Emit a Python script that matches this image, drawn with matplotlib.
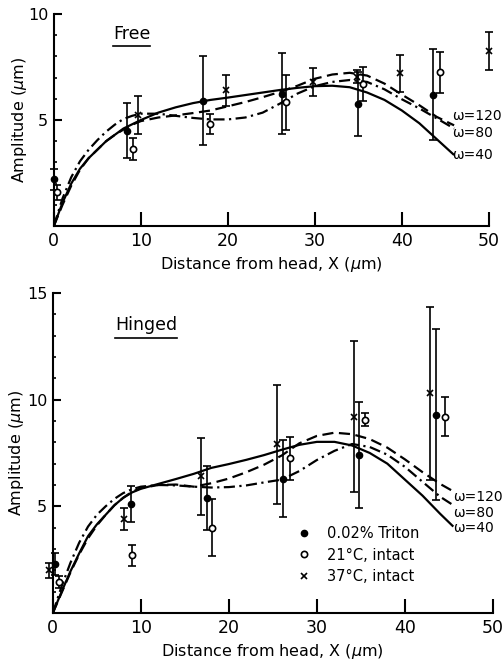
import matplotlib
matplotlib.use("Agg")
import matplotlib.pyplot as plt
from matplotlib.lines import Line2D

plt.rcParams['font.family'] = ['DejaVu Sans']

# ---- model curves, Free ----
free_x = [0, 1, 2, 3, 4, 5, 6, 7, 8, 9, 10, 12, 14, 16, 18, 20, 22, 24, 26, 28,
          30, 32, 34, 36, 38, 40, 42, 44, 46]
free_w40 = [0, 1.1, 2.0, 2.7, 3.2, 3.6, 4.0, 4.3, 4.6, 4.8, 5.0, 5.35, 5.6, 5.8,
            5.95, 6.06, 6.18, 6.3, 6.42, 6.52, 6.6, 6.62, 6.55, 6.3, 5.95, 5.45,
            4.85, 4.1, 3.35]
free_w80 = [0, 1.3, 2.3, 3.05, 3.6, 4.05, 4.45, 4.78, 5.05, 5.2, 5.3, 5.3, 5.2,
            5.1, 5.03, 5.03, 5.12, 5.35, 5.78, 6.25, 6.6, 6.8, 6.89, 6.8, 6.45,
            5.98, 5.55, 5.08, 4.6]
free_w120 = [0, 1.0, 1.9, 2.65, 3.2, 3.6, 4.0, 4.3, 4.55, 4.78, 4.95, 5.12, 5.22,
             5.33, 5.45, 5.65, 5.85, 6.08, 6.33, 6.62, 6.95, 7.15, 7.23, 7.1,
             6.72, 6.2, 5.7, 5.15, 4.75]

# ---- model curves, Hinged ----
hing_x = [0, 1, 2, 3, 4, 5, 6, 7, 8, 9, 10, 12, 14, 16, 18, 20, 22, 24, 26, 28,
          30, 32, 34, 36, 38, 40, 42, 44, 45.5]
hing_w40 = [0, 1.0, 1.95, 2.8, 3.6, 4.15, 4.6, 5.05, 5.4, 5.65, 5.82, 6.05, 6.28,
            6.52, 6.8, 6.98, 7.18, 7.4, 7.65, 7.88, 8.02, 8.02, 7.85, 7.5, 7.0,
            6.25, 5.5, 4.65, 4.05]
hing_w80 = [0, 1.25, 2.35, 3.3, 4.05, 4.6, 5.0, 5.35, 5.62, 5.8, 5.92, 6.0, 5.98,
            5.92, 5.88, 5.9, 5.98, 6.12, 6.25, 6.65, 7.17, 7.6, 7.92, 7.78, 7.42,
            6.85, 6.15, 5.45, 5.05]
hing_w120 = [0, 0.95, 1.9, 2.75, 3.5, 4.1, 4.6, 5.05, 5.4, 5.68, 5.85, 6.0, 6.02,
             5.92, 6.08, 6.3, 6.6, 6.95, 7.38, 7.95, 8.3, 8.45, 8.38, 8.15, 7.75,
             7.2, 6.6, 6.05, 5.7]

# ---- measurements, Free ----
free_tri_x = [0.0, 8.4, 17.2, 26.2, 34.9, 43.6]
free_tri_y = [2.2, 4.5, 5.9, 6.25, 5.75, 6.2]
free_tri_e = [0.5, 1.3, 2.1, 1.9, 1.5, 2.15]
free_21_x = [0.4, 9.1, 17.9, 26.7, 35.5, 44.4]
free_21_y = [1.6, 3.65, 4.8, 5.85, 6.7, 7.25]
free_21_e = [0.35, 0.52, 0.47, 1.3, 0.8, 0.98]
free_37_x = [9.7, 19.8, 29.8, 34.8, 39.8, 50.0]
free_37_y = [5.25, 6.4, 6.8, 7.05, 7.2, 8.25]
free_37_e = [0.9, 0.75, 0.65, 0.3, 0.87, 0.89]

# ---- measurements, Hinged ----
hing_tri_x = [0.2, 8.9, 17.5, 26.2, 34.8, 43.5]
hing_tri_y = [2.3, 5.1, 5.4, 6.3, 7.4, 9.3]
hing_tri_e = [0.5, 0.85, 1.5, 1.8, 2.5, 4.0]
hing_21_x = [0.7, 9.0, 18.1, 26.9, 35.5, 44.5]
hing_21_y = [1.45, 2.7, 4.0, 7.25, 9.05, 9.2]
hing_21_e = [0.3, 0.5, 1.35, 1.0, 0.3, 0.9]
hing_37_x = [-0.4, 8.1, 16.8, 25.5, 34.2, 42.8]
hing_37_y = [2.0, 4.4, 6.4, 7.9, 9.2, 10.3]
hing_37_e = [0.35, 0.5, 1.8, 2.8, 3.55, 4.05]

omega_labels = ["ω=120", "ω=80", "ω=40"]
legend_labels = ["0.02% Triton", "21°C, intact", "37°C, intact"]

fig = plt.figure(figsize=(5.03, 6.60), dpi=100)
ax1 = fig.add_axes([0.107, 0.6576, 0.865, 0.321])
ax2 = fig.add_axes([0.105, 0.0712, 0.875, 0.485])

lw = 1.6
sty = dict(ms=4.5, capsize=3, elinewidth=1.2, capthick=1.2, ls='none',
           color='black', clip_on=False, zorder=3)


def panel(ax, xs, w40, w80, w120, tri, i21, i37, ymax):
    ax.plot(xs, w40, color='black', lw=lw, solid_capstyle='butt')
    ax.plot(xs, w80, color='black', lw=lw, ls=(0, (5, 2, 1, 2)))
    ax.plot(xs, w120, color='black', lw=lw, ls=(0, (5, 2.5)))
    ax.errorbar(tri[0], tri[1], yerr=tri[2], fmt='o', mfc='black', **sty)
    ax.errorbar(i21[0], i21[1], yerr=i21[2], fmt='o', mfc='white', mew=1.2, **sty)
    ax.errorbar(i37[0], i37[1], yerr=i37[2], fmt='x', mew=1.2, **sty)
    ax.set_xlim(0, 50)
    ax.set_ylim(0, ymax)
    for s in ['top', 'right']:
        ax.spines[s].set_visible(False)
    for s in ['left', 'bottom']:
        ax.spines[s].set_linewidth(1.5)
    ax.set_xticks(range(0, 51, 10))
    ax.set_yticks(range(5, ymax + 1, 5))
    ax.set_yticks(range(1, ymax), minor=True)
    ax.tick_params(axis='x', direction='in', length=10, width=1.5, labelsize=12.5, pad=4)
    ax.tick_params(axis='y', direction='in', length=6, width=1.5, labelsize=11.5, pad=4)
    ax.tick_params(axis='y', which='minor', direction='in', length=2.5, width=1.2)
    ax.set_xlabel("Distance from head, X ($\\mu$m)", fontsize=11.5)
    ax.set_ylabel("Amplitude ($\\mu$m)", fontsize=11.5, va='center')


panel(ax1, free_x, free_w40, free_w80, free_w120,
      (free_tri_x, free_tri_y, free_tri_e),
      (free_21_x, free_21_y, free_21_e),
      (free_37_x, free_37_y, free_37_e), 10)
panel(ax2, hing_x, hing_w40, hing_w80, hing_w120,
      (hing_tri_x, hing_tri_y, hing_tri_e),
      (hing_21_x, hing_21_y, hing_21_e),
      (hing_37_x, hing_37_y, hing_37_e), 15)

ax1.yaxis.set_label_coords(-0.08, 0.5)
ax2.yaxis.set_label_coords(-0.082, 0.5)
ax1.xaxis.set_label_coords(0.5, -0.135)
ax2.xaxis.set_label_coords(0.5, -0.09)

# omega labels at the curve ends
for lab, y in zip(omega_labels, [5.2, 4.4, 3.35]):
    ax1.text(45.8, y, lab, fontsize=10, va='center', ha='left')
for lab, y in zip(omega_labels, [5.45, 4.7, 3.97]):
    ax2.text(45.5, y, lab, fontsize=10, va='center', ha='left')

# underlined panel titles
t1 = ax1.text(0.136, 0.905, "Free", transform=ax1.transAxes, fontsize=12.5, va='center')
t2 = ax2.text(0.141, 0.9, "Hinged", transform=ax2.transAxes, fontsize=12.5, va='center')
fig.canvas.draw()
for ax, t in [(ax1, t1), (ax2, t2)]:
    bb = t.get_window_extent().transformed(ax.transAxes.inverted())
    ax.plot([bb.x0, bb.x1], [bb.y0 - 0.012, bb.y0 - 0.012], color='black', lw=1.2,
            transform=ax.transAxes, clip_on=False)

handles = [Line2D([], [], ls='none', marker='o', color='black', ms=4.5),
           Line2D([], [], ls='none', marker='o', color='black', mfc='white', ms=4.5, mew=1.2),
           Line2D([], [], ls='none', marker='x', color='black', ms=4.5, mew=1.2)]
ax2.legend(handles, legend_labels, loc='upper left', bbox_to_anchor=(0.55, 0.272),
           frameon=False, fontsize=10.5, handlelength=1.2, handletextpad=1.0,
           labelspacing=0.45, borderpad=0, borderaxespad=0)

fig.savefig("out.png", dpi=100)
